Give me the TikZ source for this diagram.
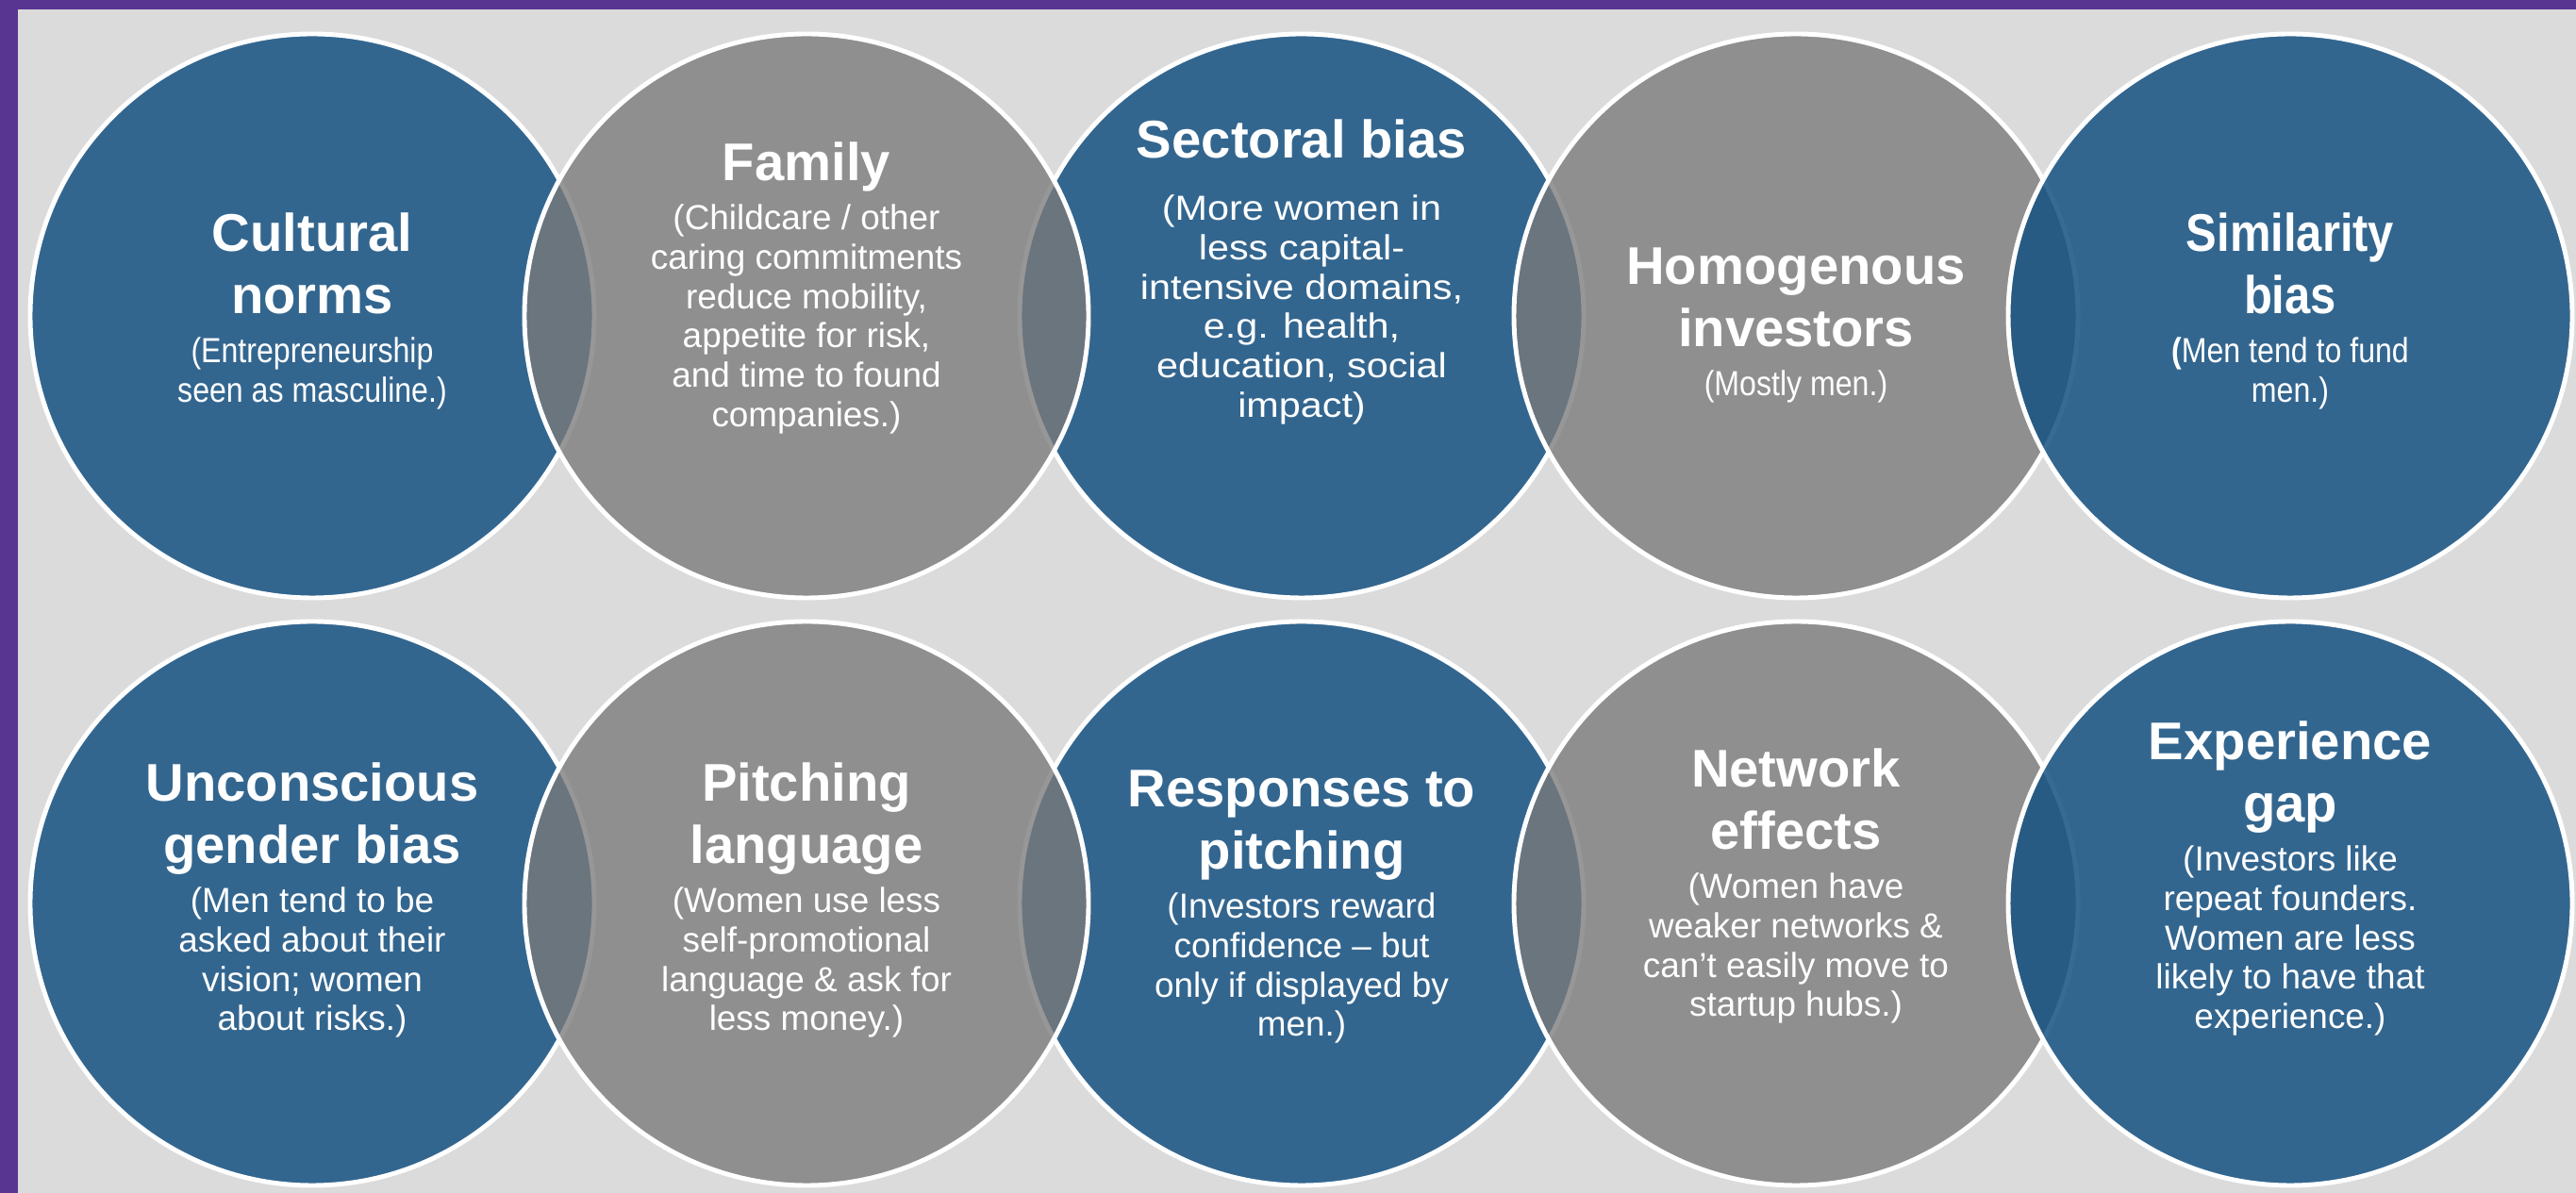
\documentclass[tikz,border=0pt]{standalone}
\usepackage{fontspec}
\setmainfont{Liberation Sans}
\newfontfamily\narrowfont[FakeStretch=0.87]{Liberation Sans}
\newfontfamily\widefont[FakeStretch=1.12]{Liberation Sans}
\usetikzlibrary{positioning}

\definecolor{slidebg}{RGB}{219,219,219}
\definecolor{framepurple}{RGB}{88,53,145}
\definecolor{discblue}{RGB}{22,82,130}
\definecolor{discgrey}{RGB}{122,122,122}

\def\discsize{5.98cm}
\def\headgap{1pt}

\tikzset{
    disc/.style = {
        circle, minimum size=\discsize, inner sep=0pt, draw=white, line width=1.4pt
    },
    bluedisc/.style = {disc, fill=discblue, fill opacity=0.85},
    greydisc/.style = {disc, fill=discgrey, fill opacity=0.78},
    head/.style = {
        text=white, align=center, inner sep=0pt, font=\fontsize{16}{18.8}\selectfont\bfseries#1
    },
    head/.default = {},
    blurb/.style = {
        text=white, align=center, inner sep=0pt, anchor=north, font=\fontsize{10.5}{11.9}\selectfont#1
    },
    blurb/.default = {},
}

\begin{document}
\begin{tikzpicture}
    % Background and purple frame
    \fill[slidebg] (0,0) rectangle (27.31,12.65);
    \fill[framepurple] (0,0) rectangle (0.19,12.65);
    \fill[framepurple] (0,12.55) rectangle (27.31,12.65);
    \useasboundingbox (0,0) rectangle (27.31,12.65);

    % Discs: blue ones first, grey ones overlap them, last blue on top
    \foreach \name/\x/\y/\kind in {cult/3.31/9.30/bluedisc, sect/13.80/9.30/bluedisc,
        fam/8.55/9.30/greydisc, homog/19.04/9.30/greydisc, simil/24.28/9.30/bluedisc,
        uncon/3.31/3.07/bluedisc, resp/13.80/3.07/bluedisc, pitch/8.55/3.07/greydisc,
        netw/19.04/3.07/greydisc, exper/24.28/3.07/bluedisc}{
        \node[\kind] (\name) at (\x,\y) {};
    }

    % Top row texts
    \node[blurb=\narrowfont] (cult-text) at ([yshift=-0.22cm] cult.center) {(Entrepreneurship\\seen as masculine.)};
    \node[head, above=\headgap of cult-text] (cult-head) {Cultural\\norms\strut};

    \node[blurb] (fam-text) at ([yshift=1.19cm] fam.center) {(Childcare / other\\caring commitments\\reduce mobility,\\appetite for risk,\\and time to found\\companies.)};
    \node[head, above=\headgap of fam-text] (fam-head) {Family\strut};

    \node[blurb=\widefont] (sect-text) at ([yshift=1.29cm] sect.center) {(More women in\\less capital-\\intensive domains,\\e.g. health,\\education, social\\impact)};
    \node[head, above=5pt of sect-text] (sect-head) {Sectoral bias\strut};

    \node[blurb=\narrowfont] (homog-text) at ([yshift=-0.57cm] homog.center) {(Mostly men.)};
    \node[head, above=\headgap of homog-text] (homog-head) {Homogenous\\investors\strut};

    \node[blurb=\narrowfont] (simil-text) at ([yshift=-0.22cm] simil.center) {\textbf{(}Men tend to fund\\men.)};
    \node[head=\narrowfont, above=\headgap of simil-text] (simil-head) {Similarity\\bias\strut};

    % Bottom row texts
    \node[blurb] (uncon-text) at ([yshift=0.18cm] uncon.center) {(Men tend to be\\asked about their\\vision; women\\about risks.)};
    \node[head, above=\headgap of uncon-text] (uncon-head) {Unconscious\\gender bias\strut};

    \node[blurb] (pitch-text) at ([yshift=0.18cm] pitch.center) {(Women use less\\self-promotional\\language \& ask for\\less money.)};
    \node[head, above=\headgap of pitch-text] (pitch-head) {Pitching\\language\strut};

    \node[blurb] (resp-text) at ([yshift=0.12cm] resp.center) {(Investors reward\\confidence – but\\only if displayed by\\men.)};
    \node[head, above=\headgap of resp-text] (resp-head) {Responses to\\pitching\strut};

    \node[blurb] (netw-text) at ([yshift=0.33cm] netw.center) {(Women have\\weaker networks \&\\can’t easily move to\\startup hubs.)};
    \node[head, above=\headgap of netw-text] (netw-head) {Network\\effects\strut};

    \node[blurb] (exper-text) at ([yshift=0.62cm] exper.center) {(Investors like\\repeat founders.\\Women are less\\likely to have that\\experience.)};
    \node[head, above=\headgap of exper-text] (exper-head) {Experience\\gap\strut};
\end{tikzpicture}
\end{document}
